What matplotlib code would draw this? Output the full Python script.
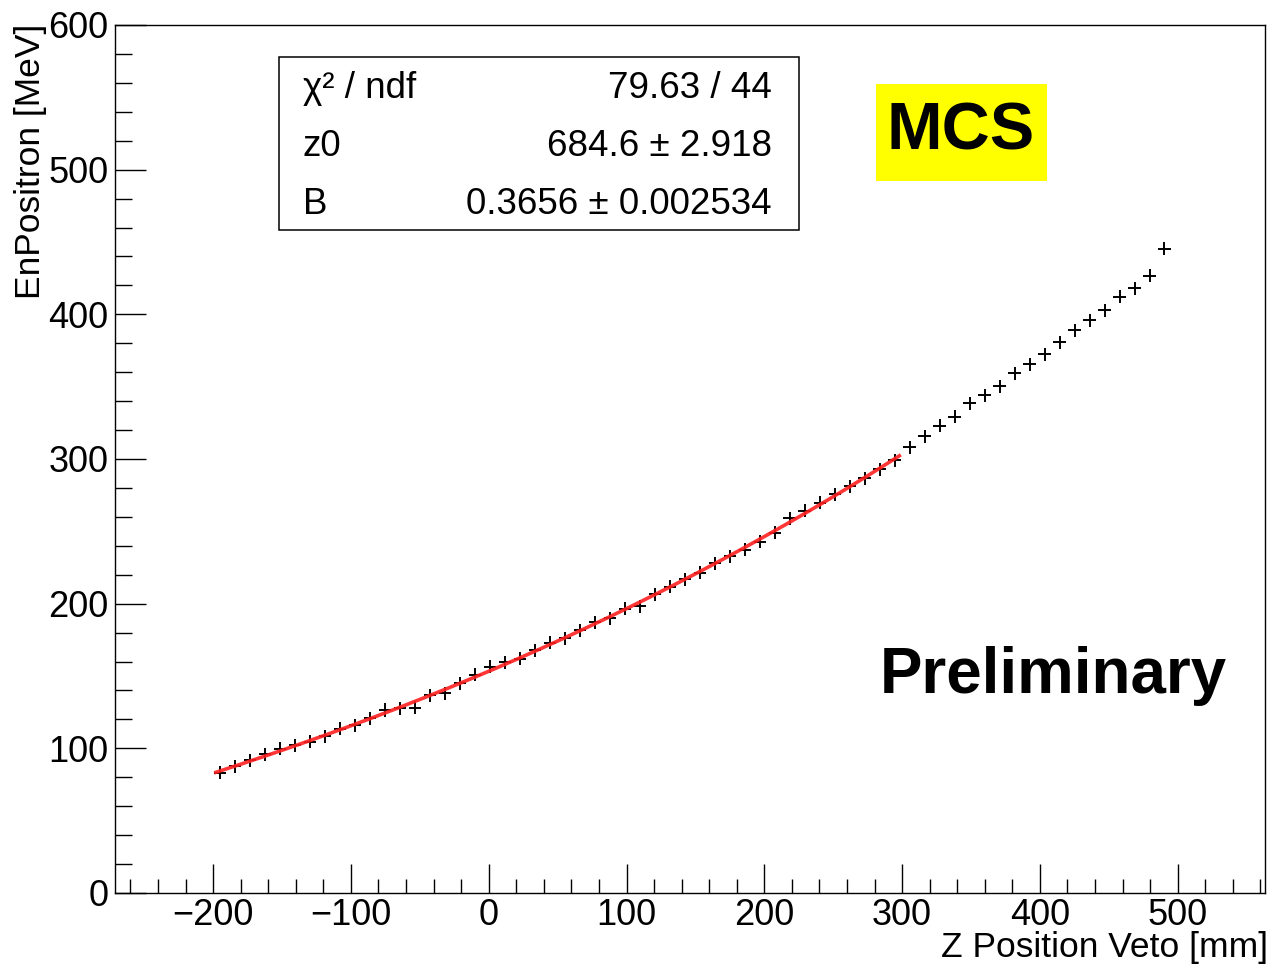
import numpy as np
import matplotlib
matplotlib.use("Agg")
import matplotlib.pyplot as plt
from matplotlib.ticker import MultipleLocator
from matplotlib.patches import Rectangle

plt.rcParams['font.family'] = ['Liberation Sans', 'DejaVu Sans']

# Veto z position (bin centres, mm)
z_pos = [-195.0, -184.1, -173.2, -162.4, -151.5, -140.6, -129.7, -118.8, -108.0, -97.1,
         -86.2, -75.3, -64.4, -53.6, -42.7, -31.8, -20.9, -10.0, 0.8, 11.7,
         22.6, 33.5, 44.4, 55.2, 66.1, 77.0, 87.9, 98.8, 109.6, 120.5,
         131.4, 142.3, 153.2, 164.0, 174.9, 185.8, 196.7, 207.6, 218.4, 229.3,
         240.2, 251.1, 262.0, 272.8, 283.7, 294.6, 305.5, 316.4, 327.2, 338.1,
         349.0, 359.9, 370.8, 381.6, 392.5, 403.4, 414.3, 425.2, 436.0, 446.9,
         457.8, 468.7, 479.6, 490.4]

# Mean positron energy per bin (MeV)
e_positron = [83.0, 87.5, 91.6, 96.0, 99.8, 102.0, 104.6, 108.3, 113.5, 115.8,
              120.7, 126.5, 127.7, 128.1, 136.8, 138.0, 144.9, 150.8, 156.4, 159.6,
              161.9, 167.8, 173.0, 176.0, 181.5, 187.0, 190.0, 196.5, 198.2, 206.6,
              211.7, 216.8, 221.4, 228.0, 232.9, 237.4, 242.8, 249.0, 258.9, 264.2,
              269.7, 275.7, 281.3, 286.6, 292.8, 299.2, 308.1, 315.8, 323.0, 329.2,
              338.4, 344.2, 350.4, 359.2, 365.4, 372.3, 380.6, 389.1, 396.0, 402.9,
              412.1, 417.9, 426.6, 445.5]

fit_range = (-200.0, 300.0)
stats_labels = ["\u03c7\u00b2 / ndf", "z0", "B"]
stats_values = ["79.63 / 44", "684.6 \u00b1 2.918", "0.3656 \u00b1 0.002534"]

W, H = 1277, 968
fig = plt.figure(figsize=(W / 100, H / 100), dpi=100)
ax = fig.add_axes([115.3 / W, 1 - 893 / H, (1264.5 - 115.3) / W, (893 - 25) / H])

z = np.array(z_pos)
e = np.array(e_positron)

ax.errorbar(z, e, xerr=4.5, yerr=4.5, fmt='none', ecolor='black',
            elinewidth=1.4, capsize=0, zorder=2)

# smooth fit over the fit window
sel = (z >= fit_range[0]) & (z <= fit_range[1])
coef = np.polyfit(z[sel], e[sel], 3)
zz = np.linspace(-198, 298, 300)
ax.plot(zz, np.polyval(coef, zz), color='#ff2020', lw=2.6, alpha=0.9, zorder=3)

ax.set_xlim(-271, 563)
ax.set_ylim(0, 600)

ax.xaxis.set_major_locator(MultipleLocator(100))
ax.xaxis.set_minor_locator(MultipleLocator(20))
ax.yaxis.set_major_locator(MultipleLocator(100))
ax.yaxis.set_minor_locator(MultipleLocator(20))
ax.tick_params(axis='both', which='both', direction='in', top=False, right=False,
               width=1.0, labelsize=26)
ax.tick_params(axis='x', which='major', length=21, pad=3.5)
ax.tick_params(axis='x', which='minor', length=10)
ax.tick_params(axis='y', which='major', length=22, pad=5)
ax.tick_params(axis='y', which='minor', length=12)
for s in ax.spines.values():
    s.set_linewidth(1.0)

fig.text(1268 / W, 1 - 948 / H, "Z Position Veto [mm]", ha='right', va='center', fontsize=25.5)
fig.text(31 / W, 1 - 24 / H, "EnPositron [MeV]", ha='center', va='top', rotation=90, fontsize=25.5)

# fit statistics box
bx0, bx1, by0, by1 = 279 / W, 799 / W, 1 - 230 / H, 1 - 57 / H
fig.patches.append(Rectangle((bx0, by0), bx1 - bx0, by1 - by0, transform=fig.transFigure,
                             facecolor='white', edgecolor='black', lw=1.1, zorder=5))
rows_y = [88, 146, 204]
for lab, val, ry in zip(stats_labels, stats_values, rows_y):
    fig.text(303 / W, 1 - ry / H, lab, ha='left', va='center', fontsize=26.5, zorder=6)
    fig.text(772 / W, 1 - ry / H, val, ha='right', va='center', fontsize=26.5, zorder=6)

# MCS tag
fig.patches.append(Rectangle((876 / W, 1 - 181 / H), (1047 - 876) / W, (181 - 84) / H,
                             transform=fig.transFigure, facecolor='#ffff00',
                             edgecolor='none', zorder=5))
fig.text(961 / W, 1 - 133 / H, "MCS", ha='center', va='center', fontsize=48,
         fontweight='bold', zorder=6)

fig.text(1053 / W, 1 - 676 / H, "Preliminary", ha='center', va='center', fontsize=45.8,
         fontweight='bold')

fig.savefig("out.png", dpi=100)
